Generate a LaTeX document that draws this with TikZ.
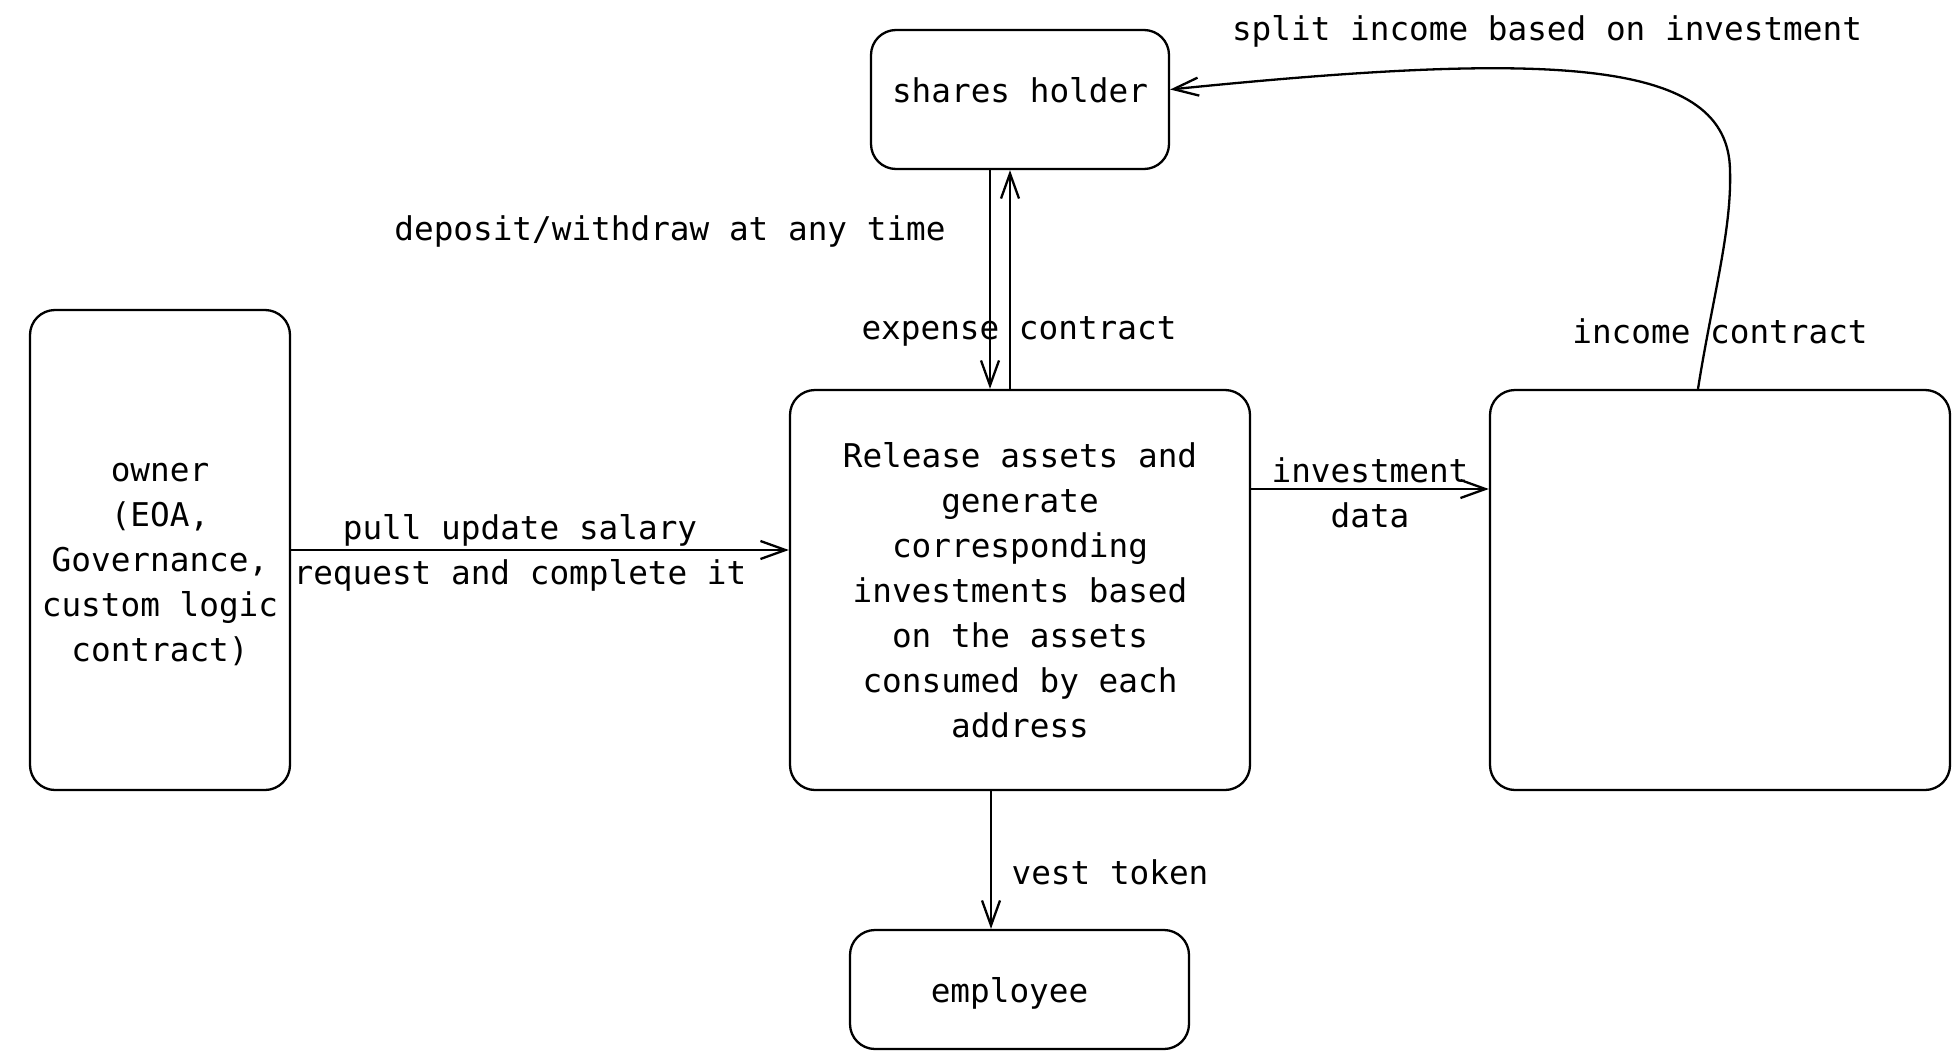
\documentclass[tikz,border=0pt]{standalone}
\usepackage{fontspec}
\newfontfamily\codefont{DejaVu Sans Mono}
\usetikzlibrary{arrows.meta, positioning}

\begin{document}
\begin{tikzpicture}[x=1pt, y=-1pt,
  font=\codefont\fontsize{32.7}{45}\selectfont,
  box/.style={draw, line width=2.3pt, rounded corners=25pt, align=center, inner sep=0pt},
  arr/.style={line width=2.3pt, -{Straight Barb[length=25pt, width=18pt, line width=2.3pt]}},
  lbl/.style={inner sep=0pt, align=center}]

  \useasboundingbox (0,0) rectangle (1960,1060);

  % boxes
  \node[box, minimum width=298pt, minimum height=139pt,
    label={[lbl, yshift=9pt]center:shares holder}] (shares) at (1020,99.5) {};
  \node[box, minimum width=260pt, minimum height=480pt,
    label={[lbl, yshift=-14pt]center:owner\\(EOA,\\Governance,\\custom logic\\contract)}] (owner) at (160,550) {};
  \node[box, minimum width=460pt, minimum height=400pt] (release) at (1020,590) {Release assets and\\generate\\corresponding\\investments based\\on the assets\\consumed by each\\address};
  \node[box, minimum width=460pt, minimum height=400pt] (income) at (1720,590) {};
  \node[box, minimum width=339pt, minimum height=119pt,
    label={[lbl, xshift=-10pt, yshift=-4pt]center:employee}] (employee) at (1019.5,989.5) {};

  % labels
  \node[lbl] (splitlbl) at (1547,31) {split income based on investment};
  \node[lbl] (depositlbl) at (670,231) {deposit/withdraw at any time};
  \node[lbl] (expenselbl) at (1019,331) {expense contract};
  \node[lbl] (incomelbl) at (1720,331) {income contract};
  \node[lbl] (pulllbl) at (520,553) {pull update salary\\request and complete it};
  \node[lbl] (investlbl) at (1370,493) {investment\\data};
  \node[lbl] (vestlbl) at (1110,872) {vest token};

  % arrows
  \draw[arr] (owner.east) -- (owner.east -| release.west);
  \draw[arr] ([yshift=101pt]release.east) -- ([yshift=101pt]income.west);
  \draw[arr] ([xshift=-30pt]shares.south) -- ([xshift=-30pt]release.north);
  \draw[arr] ([xshift=-10pt]release.north) -- ([xshift=-10pt]shares.south);
  \draw[arr] ([xshift=-29pt]release.south) -- ([xshift=-28.5pt]employee.north);
  \draw[arr] ([xshift=-22pt]income.north) .. controls (1712,300) and (1732,230) .. (1730,170)
    .. controls (1728,60) and (1560,50) .. ([yshift=10pt]shares.east);
\end{tikzpicture}
\end{document}
